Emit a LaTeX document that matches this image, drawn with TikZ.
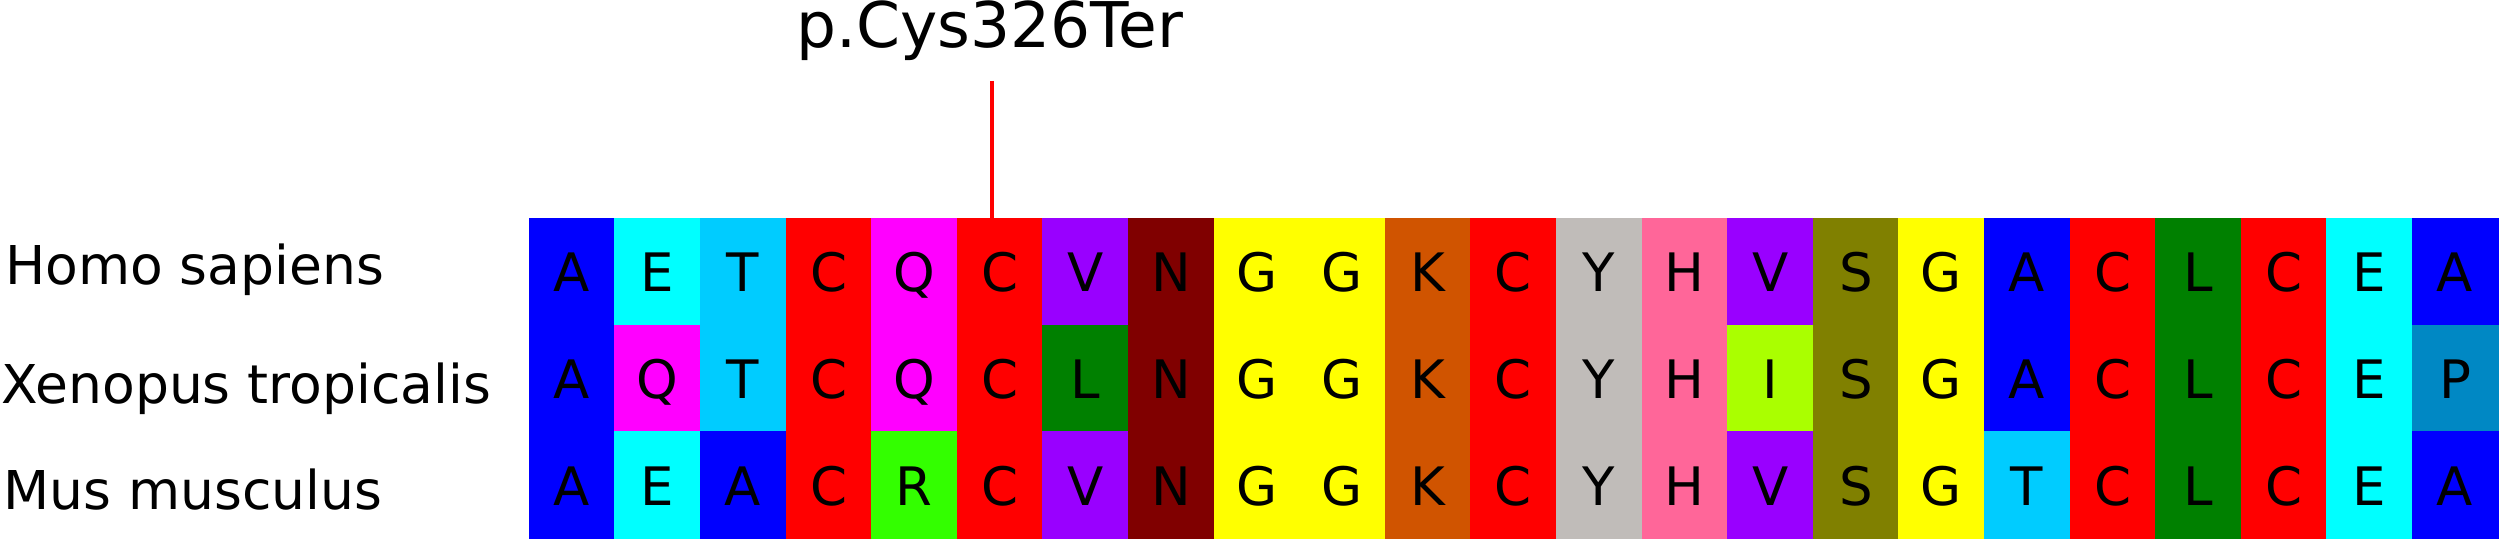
\documentclass[tikz,border=0pt]{standalone}
\usepackage{fontspec}
\setmainfont{DejaVu Sans}
\definecolor{aaA}{HTML}{0000FF}
\definecolor{aaE}{HTML}{00FFFF}
\definecolor{aaT}{HTML}{00CCFF}
\definecolor{aaC}{HTML}{FF0000}
\definecolor{aaQ}{HTML}{FF00FF}
\definecolor{aaV}{HTML}{9900FF}
\definecolor{aaN}{HTML}{800000}
\definecolor{aaG}{HTML}{FFFF00}
\definecolor{aaK}{HTML}{D05400}
\definecolor{aaY}{HTML}{C0BCB9}
\definecolor{aaH}{HTML}{FF6699}
\definecolor{aaI}{HTML}{AAFF00}
\definecolor{aaS}{HTML}{808000}
\definecolor{aaL}{HTML}{008000}
\definecolor{aaR}{HTML}{33FF00}
\definecolor{aaP}{HTML}{0088C4}
\begin{document}
\begin{tikzpicture}[x=1pt,y=-1pt,
  cell/.style={minimum width=85.6pt, minimum height=106.8pt, inner sep=0pt, outer sep=0pt,
    text height=41pt, text depth=0pt, font=\fontsize{53}{60}\selectfont, line width=0.4pt},
  lab/.style={anchor=base west, inner sep=0pt, font=\fontsize{53.5}{60}\selectfont},
  mutlab/.style={anchor=base, inner sep=0pt, font=\fontsize{63}{70}\selectfont},
  mutline/.style={draw=red, line width=4.5pt}]
\useasboundingbox (0,0) rectangle (2500,540);
\foreach \seq [count=\r] in {{A,E,T,C,Q,C,V,N,G,G,K,C,Y,H,V,S,G,A,C,L,C,E,A},
                             {A,Q,T,C,Q,C,L,N,G,G,K,C,Y,H,I,S,G,A,C,L,C,E,P},
                             {A,E,A,C,R,C,V,N,G,G,K,C,Y,H,V,S,G,T,C,L,C,E,A}} {
  \foreach \aa [count=\c] in \seq {
    \node[cell, fill=aa\aa, draw=aa\aa] (c\r-\c) at ({529+85.6*(\c-0.5)}, {218+106.8*(\r-0.5)}) {\aa};
  }
}
\node[lab] (hs) at (5,284) {Homo sapiens};
\node[lab] (xt) at (1,403) {Xenopus tropicalis};
\node[lab] (mm) at (3,509) {Mus musculus};
\node[mutlab] (mut) at (990,48) {p.Cys326Ter};
\coordinate (tick) at (992,81);
\path[mutline] (tick) -- (tick |- c1-6.north);
\end{tikzpicture}
\end{document}
